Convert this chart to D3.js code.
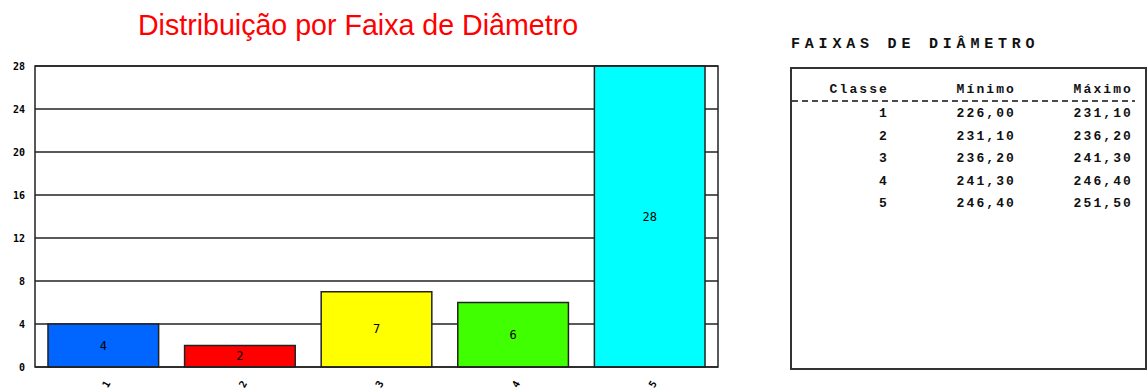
<!DOCTYPE html>
<html>
<head>
<meta charset="utf-8">
<script src="https://cdn.jsdelivr.net/npm/d3@7"></script>
<style>
  body { margin: 0; background: #fff; }
  svg { display: block; }
</style>
</head>
<body>
<svg></svg>
<script>
const width = 1148;
const height = 392;

// chart data
const classes = ["1", "2", "3", "4", "5"];
const counts = [4, 2, 7, 6, 28];
const barColors = ["#0066ff", "#ff0000", "#ffff00", "#40ff00", "#00ffff"];
const yTicks = [0, 4, 8, 12, 16, 20, 24, 28];

// table data
const tableHeader = ["Classe", "Mínimo", "Máximo"];
const minimos = ["226,00", "231,10", "236,20", "241,30", "246,40"];
const maximos = ["231,10", "236,20", "241,30", "246,40", "251,50"];

let svg = d3.select("svg").attr("width", width).attr("height", height);

// title
svg.append("text")
    .attr("x", 358).attr("y", 35)
    .attr("text-anchor", "middle")
    .attr("font-family", "Liberation Sans, Arial, sans-serif")
    .attr("font-size", 28.6)
    .attr("fill", "#ff0000")
    .text("Distribuição por Faixa de Diâmetro");

const plot = {left: 35, right: 718, top: 66, bottom: 367};

let xScale = d3.scaleBand().domain(classes)
    .range([plot.left, plot.right])
    .paddingInner(0.19).paddingOuter(0.095);
let yScale = d3.scaleLinear().domain([0, 28]).range([plot.bottom, plot.top]);

// grid lines
svg.append("g").selectAll("line").data(yTicks).enter().append("line")
    .attr("x1", plot.left).attr("x2", plot.right)
    .attr("y1", d => yScale(d)).attr("y2", d => yScale(d))
    .attr("stroke", "#222").attr("stroke-width", 1.5);

// bars
let data = classes.map((c, i) => ({c: c, v: counts[i], color: barColors[i]}));
svg.append("g").selectAll("rect").data(data).enter().append("rect")
    .attr("x", d => xScale(d.c))
    .attr("y", d => yScale(d.v))
    .attr("width", xScale.bandwidth())
    .attr("height", d => yScale(0) - yScale(d.v))
    .attr("fill", d => d.color)
    .attr("stroke", "#222").attr("stroke-width", 1.5);

// value labels
svg.append("g").selectAll("text").data(data).enter().append("text")
    .attr("x", d => xScale(d.c) + xScale.bandwidth() / 2)
    .attr("y", d => (yScale(d.v) + yScale(0)) / 2 + 4)
    .attr("text-anchor", "middle")
    .attr("font-family", "DejaVu Sans Mono, monospace")
    .attr("font-size", 12)
    .attr("fill", "#000")
    .text(d => d.v);

// frame
svg.append("rect")
    .attr("x", plot.left).attr("y", plot.top)
    .attr("width", plot.right - plot.left).attr("height", plot.bottom - plot.top)
    .attr("fill", "none").attr("stroke", "#222").attr("stroke-width", 1.5);

// y axis labels
let yAxis = d3.axisLeft(yScale).tickValues(yTicks).tickSize(0).tickPadding(10);
let gy = svg.append("g").attr("transform", `translate(${plot.left},0)`).call(yAxis);
gy.select(".domain").remove();
gy.selectAll("text")
    .attr("font-family", "DejaVu Sans Mono, monospace")
    .attr("font-size", 10).attr("font-weight", "bold").attr("fill", "#000");

// x axis labels (rotated)
let xAxis = d3.axisBottom(xScale).tickSize(0).tickPadding(0);
let gx = svg.append("g").attr("transform", `translate(0,${plot.bottom})`).call(xAxis);
gx.select(".domain").remove();
gx.selectAll("text")
    .attr("font-family", "DejaVu Sans Mono, monospace")
    .attr("font-size", 10).attr("font-weight", "bold").attr("fill", "#000")
    .attr("text-anchor", "middle")
    .attr("dy", 0)
    .attr("transform", "translate(6,19) rotate(-60)");

// right side table
svg.append("text")
    .attr("x", 791).attr("y", 48)
    .attr("font-family", "Liberation Mono, monospace")
    .attr("font-size", 15).attr("font-weight", "bold")
    .attr("letter-spacing", 4.8)
    .attr("fill", "#111")
    .text("FAIXAS DE DIÂMETRO");

svg.append("rect")
    .attr("x", 791).attr("y", 68).attr("width", 355).attr("height", 301)
    .attr("fill", "#fff").attr("stroke", "#333").attr("stroke-width", 2);

const colRight = [889, 1016, 1133];
const tFont = "Liberation Mono, monospace";

let th = svg.append("g");
tableHeader.forEach((h, i) => {
    th.append("text")
        .attr("x", colRight[i]).attr("y", 93)
        .attr("text-anchor", "end")
        .attr("font-family", tFont).attr("font-size", 13).attr("font-weight", "bold")
        .attr("letter-spacing", 2.1)
        .attr("fill", "#111")
        .text(h);
});

svg.append("line")
    .attr("x1", 792).attr("x2", 1135).attr("y1", 101).attr("y2", 101)
    .attr("stroke", "#111").attr("stroke-width", 1.5)
    .attr("stroke-dasharray", "6,4");

let rowY = d3.scalePoint().domain(classes).range([117, 207]);
let rows = svg.append("g").selectAll("g").data(classes).enter().append("g");
[classes, minimos, maximos].forEach((col, j) => {
    rows.append("text")
        .attr("x", colRight[j]).attr("y", (d) => rowY(d))
        .attr("text-anchor", "end")
        .attr("font-family", tFont).attr("font-size", 13).attr("font-weight", "bold")
        .attr("letter-spacing", 2.1)
        .attr("fill", "#111")
        .text((d, i) => col[i]);
});
</script>
</body>
</html>
